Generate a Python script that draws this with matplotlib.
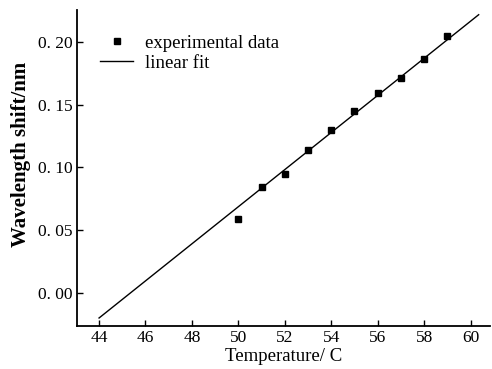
import numpy as np
import matplotlib
matplotlib.use('Agg')
import matplotlib.pyplot as plt
from matplotlib.ticker import FuncFormatter

# dados
temperatura = [50, 51, 52, 53, 54, 55, 56, 57, 58, 59]
deslocamento = [0.059, 0.084, 0.095, 0.114, 0.130, 0.145, 0.159, 0.171, 0.186, 0.205]

# reta de ajuste (como desenhada)
fit_slope = 0.01477
fit_intercept = -0.6698
fit_range = [44, 60.35]

x_ticks = [44, 46, 48, 50, 52, 54, 56, 58, 60]
y_ticks = [0.00, 0.05, 0.10, 0.15, 0.20]

plt.rcParams['font.family'] = ['Liberation Serif', 'DejaVu Serif']

fig = plt.figure(figsize=(4.92, 3.69), dpi=100)
ax = fig.add_axes([0.1565, 0.1165, 0.84, 0.857])

ax.plot(temperatura, deslocamento, 's', color='black', markersize=4.2,
        label='experimental data')
fx = np.array(fit_range)
ax.plot(fx, fit_slope * fx + fit_intercept, '-', color='black', linewidth=1.0,
        label='linear fit')

ax.set_xlim(43.05, 60.85)
ax.set_ylim(-0.0263, 0.2255)
ax.set_xticks(x_ticks)
ax.set_yticks(y_ticks)
ax.yaxis.set_major_formatter(FuncFormatter(lambda v, p: ('%.2f' % v).replace('.', '. ')))
ax.tick_params(direction='in', length=4, width=1.0, labelsize=12.5, pad=3)

for s in ['top', 'right']:
    ax.spines[s].set_visible(False)
for s in ['left', 'bottom']:
    ax.spines[s].set_linewidth(1.3)

ax.set_xlabel('Temperature/ C', fontsize=13.5, labelpad=1)
ax.set_ylabel('Wavelength shift/nm', fontsize=15, fontweight='bold')
ax.yaxis.set_label_coords(-0.112, 0.544)

ax.legend(loc='upper left', frameon=False, fontsize=13.5, handlelength=1.76,
          handletextpad=0.64, borderaxespad=0, borderpad=0, labelspacing=0.15,
          bbox_to_anchor=(0.0557, 0.922))

fig.savefig('out.png', dpi=100)
